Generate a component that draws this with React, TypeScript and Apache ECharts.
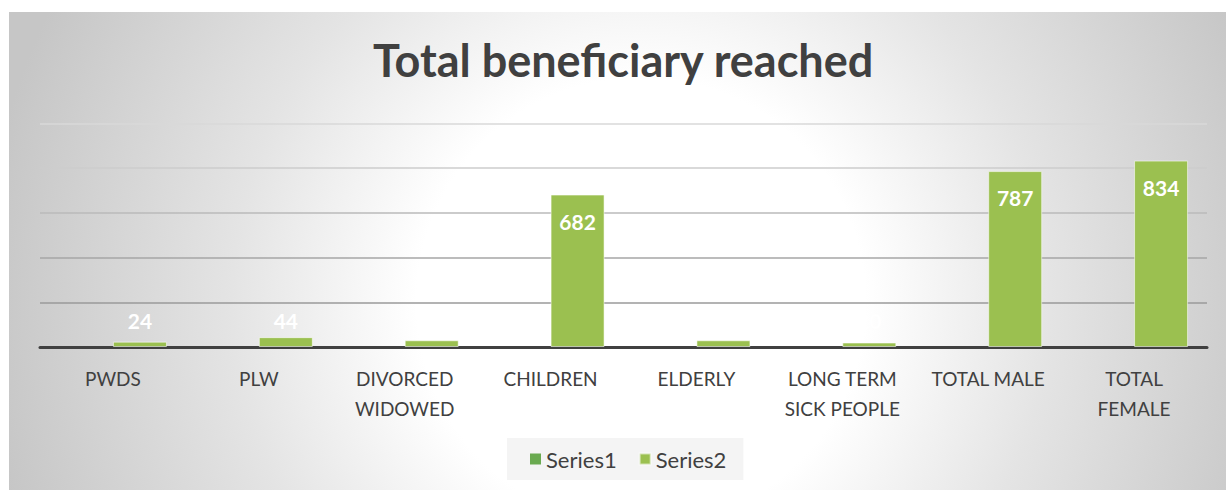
import React, { useEffect, useRef } from "react";
import * as echarts from "echarts";

const categories = [
  "PWDS",
  "PLW",
  "DIVORCED\nWIDOWED",
  "CHILDREN",
  "ELDERLY",
  "LONG TERM\nSICK PEOPLE",
  "TOTAL MALE",
  "TOTAL\nFEMALE",
];
const series1Values: (number | null)[] = [null, null, null, null, null, null, null, null];
const series2Values = [24, 44, 30, 682, 30, 20, 787, 834];
const yMax = 1000;
const yInterval = 200;
const titleText = "Total beneficiary reached";

const FONT = "Lato, 'Open Sans', sans-serif";

export default function App() {
  const ref = useRef<HTMLDivElement>(null);
  useEffect(() => {
    if (!ref.current) return;
    const chart = echarts.init(ref.current, undefined, { renderer: "svg" });
    const option = {
      animation: false,
      textStyle: { fontFamily: FONT },
      title: {
        text: titleText,
        left: 364,
        top: 25,
        padding: 0,
        textStyle: { fontFamily: FONT, fontSize: 45, fontWeight: "bold", color: "#404040" },
      },
      legend: {
        data: ["Series1", "Series2"],
        bottom: 10,
        left: 498,
        icon: "rect",
        itemWidth: 11,
        itemHeight: 11,
        itemGap: 22,
        backgroundColor: "#f4f4f4",
        padding: [10, 17, 10, 23],
        textStyle: { fontFamily: FONT, fontSize: 22, color: "#404040" },
      },
      grid: { left: 31, right: 19, top: 111.5, bottom: 143, containLabel: false },
      xAxis: {
        type: "category",
        data: categories,
        axisLine: { show: true, lineStyle: { color: "#404040", width: 3 } },
        axisTick: { show: false },
        axisLabel: {
          interval: 0,
          margin: 16,
          fontFamily: FONT,
          fontSize: 19,
          color: "#404040",
          lineHeight: 30,
        },
      },
      yAxis: {
        type: "value",
        min: 0,
        max: yMax,
        interval: yInterval,
        axisLabel: { show: false },
        axisLine: { show: false },
        axisTick: { show: false },
        splitLine: {
          show: true,
          lineStyle: {
            width: 1.5,
            color: ["#404040", "#9a9a9a", "#a6a6a6", "#bababa", "#cccccc", "#d8d8d8"],
          },
        },
      },
      series: [
        {
          name: "Series1",
          type: "bar",
          data: series1Values,
          barWidth: 54,
          barGap: "0%",
          itemStyle: { color: "#6aaa50" },
        },
        {
          name: "Series2",
          type: "bar",
          data: series2Values.map((v) => ({
            value: v,
            label:
              v < 100
                ? { position: "insideBottom", distance: 16 }
                : { position: "insideTop", distance: 16 },
          })),
          barWidth: 54,
          barGap: "0%",
          itemStyle: { color: "#9bc050", borderColor: "rgba(255,255,255,0.55)", borderWidth: 1 },
          label: {
            show: true,
            color: "#ffffff",
            fontFamily: FONT,
            fontSize: 21,
            fontWeight: "bold",
          },
        },
      ],
    };
    chart.setOption(option as any);
    return () => chart.dispose();
  }, []);
  return (
    <div
      ref={ref}
      style={{
        position: "absolute",
        left: 9,
        top: 12,
        width: 1217,
        height: 478,
        background:
          "radial-gradient(circle 660px at 632px 290px, #ffffff 0%, #ffffff 34%, #e4e4e4 62%, #c6c6c6 100%)",
      }}
    />
  );
}
